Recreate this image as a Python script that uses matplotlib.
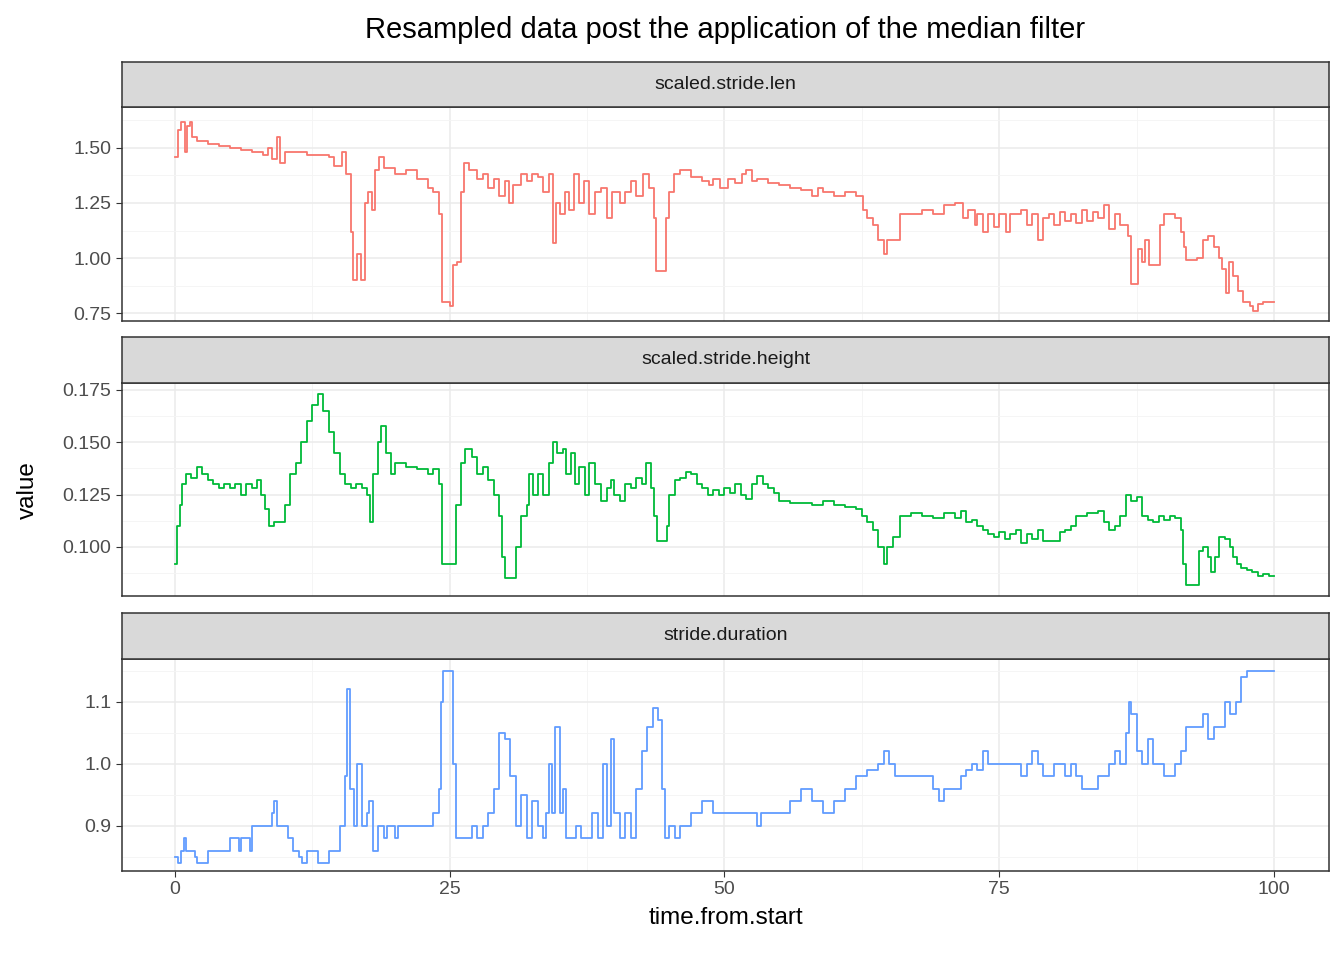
import matplotlib
matplotlib.use("Agg")
import matplotlib.pyplot as plt

plt.rcParams['font.family'] = ['Liberation Sans', 'DejaVu Sans']

# step series: (time, value)
len_t = [0,0.3,0.6,0.9,1.1,1.4,1.6,2,3,4,5,6,7,8,8.5,8.8,9.3,9.6,10,11,12,13,14,14.5,15.2,15.6,16,16.2,16.6,16.9,17.3,17.6,17.9,18.2,18.6,19,20,21,22,23,23.5,24,24.3,25,25.3,25.7,26,26.3,26.8,27.5,28,28.5,29,29.5,30,30.4,30.8,31.5,32,32.5,33,33.5,34,34.4,34.7,35,35.5,35.9,36.3,36.8,37.2,37.7,38.2,38.8,39.3,39.8,40.5,41,41.5,42,42.6,43.1,43.6,43.8,44.7,45,45.4,46,47,48,48.6,49,49.6,50.3,51,51.6,52,52.5,53,54,55,56,57,58,58.5,59,60,61,62,62.6,63,63.5,64,64.5,64.8,65.3,66,67,68,69,70,71,71.7,72.2,72.8,73,73.5,74,74.5,75,75.6,76,77,77.5,78,78.5,79,79.5,80,80.5,81,81.5,82,82.5,83,83.5,84,84.5,85,85.5,86,86.4,86.7,87,87.6,88,88.3,88.6,89.2,89.6,90,91,91.5,91.8,92,93,93.5,94,94.5,95,95.3,95.6,95.9,96.3,96.7,97.2,97.8,98.1,98.5,99,100]
len_v = [1.46,1.58,1.62,1.48,1.60,1.62,1.55,1.53,1.52,1.51,1.50,1.49,1.48,1.47,1.50,1.45,1.55,1.43,1.48,1.48,1.47,1.47,1.46,1.42,1.48,1.38,1.12,0.90,1.02,0.90,1.25,1.30,1.22,1.40,1.46,1.41,1.38,1.40,1.36,1.32,1.30,1.20,0.80,0.78,0.97,0.98,1.30,1.43,1.40,1.36,1.38,1.32,1.36,1.28,1.35,1.25,1.33,1.38,1.35,1.38,1.37,1.30,1.38,1.07,1.25,1.20,1.30,1.22,1.38,1.25,1.35,1.20,1.30,1.32,1.18,1.30,1.25,1.30,1.35,1.28,1.38,1.32,1.18,0.94,1.18,1.30,1.38,1.40,1.37,1.35,1.33,1.36,1.32,1.36,1.34,1.38,1.40,1.35,1.36,1.34,1.33,1.32,1.31,1.28,1.32,1.30,1.28,1.30,1.28,1.22,1.18,1.15,1.08,1.02,1.08,1.08,1.20,1.20,1.22,1.20,1.24,1.25,1.18,1.22,1.15,1.20,1.12,1.20,1.14,1.20,1.12,1.20,1.22,1.15,1.20,1.08,1.18,1.20,1.15,1.21,1.17,1.20,1.16,1.22,1.17,1.21,1.18,1.24,1.13,1.20,1.15,1.15,1.10,0.88,1.04,0.98,1.08,0.97,0.97,1.15,1.20,1.18,1.12,1.05,0.99,1.00,1.08,1.10,1.05,1.00,0.95,0.84,0.98,0.92,0.85,0.80,0.78,0.76,0.79,0.80,0.80]

height_t = [0,0.2,0.5,0.7,1,1.5,2,2.5,3,3.5,4,4.5,5,5.5,6,6.5,7,7.5,7.8,8.2,8.6,9,9.5,10,10.5,11,11.5,12,12.5,13,13.5,14,14.5,15,15.5,16,16.5,17,17.5,17.8,18,18.5,18.8,19.2,19.7,20,21,22,23,23.5,24,24.3,25,25.3,25.6,26,26.4,27,27.5,28,28.5,29,29.5,29.8,30,30.8,31,31.5,32,32.2,32.6,33,33.5,34,34.4,34.8,35.3,35.6,36,36.4,36.8,37.3,37.7,38.2,38.8,39.3,39.7,40,40.5,41,41.5,42,42.5,42.9,43.3,43.6,43.9,44.8,45,45.5,46,46.5,47,47.5,48,48.5,49,49.5,50,50.5,51,51.5,52,52.5,53,53.5,54,54.5,55,56,57,58,59,60,61,62,62.5,63,63.5,64,64.5,64.8,65.3,66,67,68,69,70,71,71.5,72,72.5,73,73.5,74,74.5,75,75.5,76,76.5,77,77.5,78,78.5,79,80,80.5,81,81.5,82,83,84,84.5,85,85.5,86,86.5,87,87.5,88,88.5,89,89.5,90,90.5,91,91.5,91.7,92,93,93.2,93.5,94,94.3,94.6,95,95.5,96,96.3,96.6,97,97.5,98,98.5,99,99.5,100]
height_v = [0.092,0.110,0.120,0.130,0.135,0.133,0.138,0.135,0.132,0.130,0.128,0.130,0.128,0.130,0.125,0.130,0.128,0.132,0.125,0.118,0.110,0.112,0.112,0.120,0.135,0.140,0.150,0.160,0.168,0.173,0.165,0.155,0.145,0.135,0.130,0.128,0.130,0.128,0.125,0.112,0.135,0.150,0.158,0.145,0.135,0.140,0.138,0.137,0.135,0.137,0.130,0.092,0.092,0.092,0.120,0.140,0.147,0.143,0.135,0.138,0.132,0.125,0.115,0.095,0.085,0.085,0.100,0.115,0.120,0.135,0.125,0.135,0.125,0.140,0.150,0.145,0.147,0.135,0.145,0.130,0.138,0.125,0.140,0.130,0.122,0.128,0.132,0.125,0.122,0.130,0.128,0.133,0.130,0.140,0.128,0.115,0.103,0.110,0.125,0.132,0.133,0.136,0.135,0.130,0.128,0.125,0.127,0.125,0.128,0.126,0.130,0.125,0.123,0.130,0.134,0.130,0.128,0.126,0.122,0.121,0.121,0.120,0.122,0.120,0.119,0.118,0.115,0.112,0.108,0.100,0.092,0.100,0.105,0.115,0.116,0.115,0.114,0.116,0.114,0.117,0.112,0.113,0.110,0.108,0.106,0.105,0.107,0.104,0.106,0.108,0.102,0.106,0.104,0.108,0.103,0.103,0.107,0.108,0.110,0.115,0.116,0.117,0.112,0.108,0.110,0.115,0.125,0.122,0.124,0.115,0.113,0.112,0.115,0.113,0.115,0.114,0.108,0.092,0.082,0.082,0.098,0.100,0.095,0.088,0.095,0.105,0.104,0.100,0.095,0.092,0.090,0.089,0.088,0.086,0.087,0.086,0.086]

dur_t = [0,0.3,0.6,0.8,1,1.8,2,3,5,5.8,6,6.8,7,8,8.8,9,9.3,10,10.3,10.8,11,11.3,11.6,12,13,14,15,15.5,15.7,15.9,16.3,16.6,17,17.5,17.7,18,18.5,19,19.3,20,20.3,21,23,23.5,24,24.2,24.4,25,25.3,25.6,26,26.5,27,27.5,28,28.5,29,29.5,30,30.5,31,31.5,32,32.5,33,33.5,33.8,34,34.3,34.6,35,35.3,35.6,36,36.5,37,37.5,38,38.5,39,39.3,39.7,40,40.5,41,41.5,42,42.5,43,43.5,44,44.3,44.6,45,45.5,46,46.5,47,48,49,50,52,53,53.3,55,56,57,58,59,60,61,62,63,64,64.5,65,65.5,66,67,68,69,69.5,70,71,71.5,72,72.5,73,73.5,74,75,76,77,77.5,78,78.5,79,80,81,81.5,82,82.5,83,84,84.5,85,85.5,86,86.5,86.8,87,87.5,88,88.5,89,89.5,90,91,91.5,92,93,93.5,94,94.5,95,95.5,96,96.5,97,97.5,100]
dur_v = [0.85,0.84,0.86,0.88,0.86,0.85,0.84,0.86,0.88,0.86,0.88,0.86,0.90,0.90,0.92,0.94,0.90,0.90,0.88,0.86,0.86,0.85,0.84,0.86,0.84,0.86,0.90,0.98,1.12,0.96,0.90,1.00,0.90,0.92,0.94,0.86,0.90,0.88,0.90,0.88,0.90,0.90,0.90,0.92,0.96,1.10,1.15,1.15,1.00,0.88,0.88,0.88,0.90,0.88,0.90,0.92,0.96,1.05,1.04,0.98,0.90,0.95,0.88,0.94,0.90,0.88,0.92,1.00,0.92,1.06,0.92,0.96,0.88,0.88,0.90,0.88,0.88,0.92,0.88,1.00,0.90,1.04,0.92,0.88,0.92,0.88,0.96,1.02,1.06,1.09,1.07,0.96,0.88,0.90,0.88,0.90,0.90,0.92,0.94,0.92,0.92,0.92,0.90,0.92,0.92,0.94,0.96,0.94,0.92,0.94,0.96,0.98,0.99,1.00,1.02,1.00,0.98,0.98,0.98,0.98,0.96,0.94,0.96,0.96,0.98,0.99,1.00,0.99,1.02,1.00,1.00,1.00,0.98,1.00,1.02,1.00,0.98,1.00,0.98,1.00,0.98,0.96,0.96,0.98,0.98,1.00,1.02,1.00,1.05,1.10,1.08,1.02,1.00,1.04,1.00,1.00,0.98,1.00,1.02,1.06,1.06,1.08,1.04,1.06,1.06,1.10,1.08,1.10,1.14,1.15,1.15]

panels = [
    ("scaled.stride.len", len_t, len_v, "#F8766D", (0.714, 1.686),
     [0.75, 1.00, 1.25, 1.50], ["0.75", "1.00", "1.25", "1.50"], [0.875, 1.125, 1.375, 1.625], 62, 107, 321),
    ("scaled.stride.height", height_t, height_v, "#00BA38", (0.0766, 0.1783),
     [0.100, 0.125, 0.150, 0.175], ["0.100", "0.125", "0.150", "0.175"], [0.0875, 0.1125, 0.1375, 0.1625], 337, 383, 596),
    ("stride.duration", dur_t, dur_v, "#619CFF", (0.827, 1.169),
     [0.9, 1.0, 1.1], ["0.9", "1.0", "1.1"], [0.85, 0.95, 1.05, 1.15], 613, 659, 871),
]

W, H = 1344, 960
fig = plt.figure(figsize=(13.44, 9.6), dpi=100)
L, R = 122, 1329

for i, (name, t, v, col, ylim, yt, ytl, ymin, s0, p0, p1) in enumerate(panels):
    ax = fig.add_axes([L / W, 1 - p1 / H, (R - L) / W, (p1 - p0) / H])
    ax.step(t, v, where="post", color=col, lw=1.3)
    ax.set_xlim(-4.8, 105)
    ax.set_ylim(*ylim)
    ax.set_yticks(yt)
    ax.set_yticklabels(ytl)
    ax.set_yticks(ymin, minor=True)
    ax.set_xticks([0, 25, 50, 75, 100])
    ax.set_xticks([12.5, 37.5, 62.5, 87.5], minor=True)
    ax.grid(True, which="major", color="#EBEBEB", lw=1.1)
    ax.grid(True, which="minor", color="#F4F4F4", lw=0.6)
    ax.set_axisbelow(True)
    for sp in ax.spines.values():
        sp.set_color("#333333")
        sp.set_linewidth(1.1)
    ax.tick_params(which="minor", length=0)
    ax.tick_params(which="major", length=4, color="#333333", labelsize=14, labelcolor="#4D4D4D")
    if i < 2:
        ax.tick_params(axis="x", labelbottom=False, length=0)
    else:
        ax.set_xticklabels(["0", "25", "50", "75", "100"])
        ax.set_xlabel("time.from.start", fontsize=17.5, labelpad=6)
    # facet strip
    sax = fig.add_axes([L / W, 1 - p0 / H, (R - L) / W, (p0 - s0) / H])
    sax.set_xticks([]); sax.set_yticks([])
    sax.set_facecolor("#D9D9D9")
    for sp in sax.spines.values():
        sp.set_color("#333333")
        sp.set_linewidth(1.1)
    sax.text(0.5, 0.5, name, ha="center", va="center", fontsize=14, color="#1A1A1A", transform=sax.transAxes)

fig.text(28 / W, 1 - 490 / H, "value", rotation=90, ha="center", va="center", fontsize=17.5)
fig.text(725 / W, 1 - 30 / H, "Resampled data post the application of the median filter",
         ha="center", va="center", fontsize=21)

fig.savefig("out.png", dpi=100)
